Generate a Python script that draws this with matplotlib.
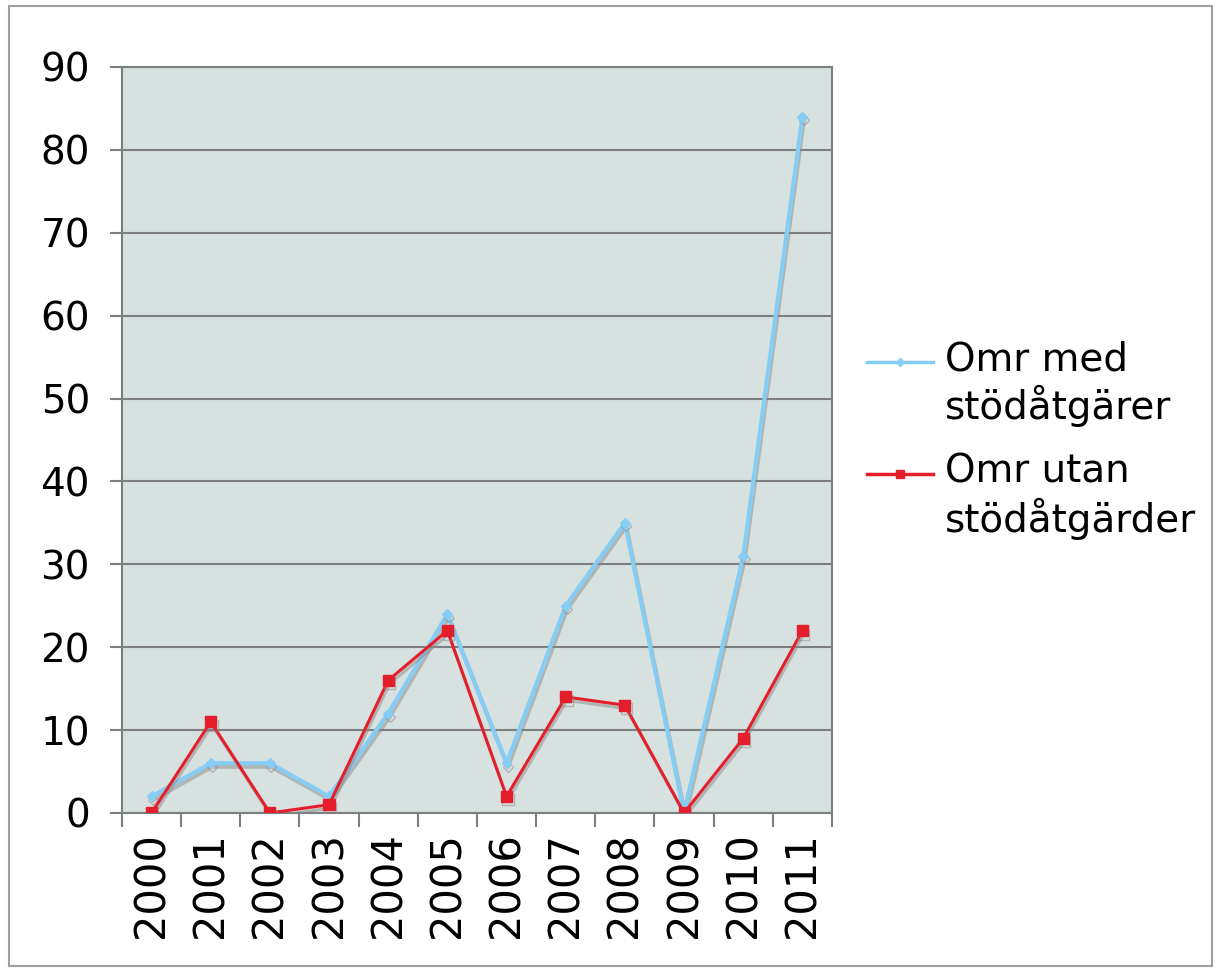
import matplotlib
matplotlib.use('Agg')
import matplotlib.pyplot as plt
import matplotlib.patheffects as pe
from matplotlib.patches import Rectangle
from matplotlib.legend_handler import HandlerLine2D

years = ['2000', '2001', '2002', '2003', '2004', '2005',
         '2006', '2007', '2008', '2009', '2010', '2011']
med_stod = [2, 6, 6, 2, 12, 24, 6, 25, 35, 0, 31, 84]
utan_stod = [0, 11, 0, 1, 16, 22, 2, 14, 13, 0, 9, 22]

label_med = 'Omr med\nstödåtgärer'
label_utan = 'Omr utan\nstödåtgärder'

blue = '#86cdf5'
red = '#e41f2b'
grid_col = '#7b7f7f'

plt.rcParams['font.family'] = ['DejaVu Sans']


class FirstLineHandler(HandlerLine2D):
    # put the legend handle level with the first line of a two-line label
    def create_artists(self, legend, orig_handle, xdescent, ydescent,
                       width, height, fontsize, trans):
        artists = super().create_artists(legend, orig_handle, xdescent, ydescent,
                                         width, height, fontsize, trans)
        for a in artists:
            a.set_ydata([y + 0.6 * fontsize for y in a.get_ydata()])
            a.set_path_effects([])
        return artists


fig = plt.figure(figsize=(12.16, 9.72), dpi=100)
ax = fig.add_axes([0.1003, 0.1636, 0.5839, 0.7675])
ax.set_facecolor('#d7e1e0')

shadow = [pe.SimpleLineShadow(offset=(1.0, -2.5), shadow_color='#8a8a8a', alpha=0.5), pe.Normal()]

x = list(range(len(years)))
l1, = ax.plot(x, med_stod, color=blue, lw=3, marker='D', ms=5, mec=blue, mfc=blue,
              label=label_med, path_effects=shadow, zorder=3)
l2, = ax.plot(x, utan_stod, color=red, lw=2.2, marker='s', ms=8, mec=red, mfc=red,
              label=label_utan, path_effects=shadow, zorder=4)

ax.set_xlim(-0.5, len(years) - 0.5)
ax.set_ylim(0, 90)
ax.set_yticks(range(0, 91, 10))
ax.yaxis.grid(True, color=grid_col, lw=1.5)
ax.set_axisbelow(True)

ax.set_xticks(x)
ax.set_xticklabels(years, rotation=90)
ax.set_xticks([i - 0.5 for i in range(len(years) + 1)], minor=True)
ax.tick_params(axis='x', which='major', length=0, pad=14, labelsize=30)
ax.tick_params(axis='x', which='minor', length=10, width=1.5, color=grid_col, direction='out')
ax.tick_params(axis='y', length=9, width=1.5, color=grid_col, pad=14, labelsize=28)

for side in ['left', 'bottom', 'right', 'top']:
    ax.spines[side].set_color(grid_col)
    ax.spines[side].set_linewidth(1.5)

leg = ax.legend(loc='center left', bbox_to_anchor=(1.0, 0.5), frameon=False,
                fontsize=28, handlelength=1.7, handletextpad=0.3, labelspacing=0.65,
                handler_map={l1: FirstLineHandler(), l2: FirstLineHandler()})
for h in leg.legend_handles:
    h.set_linewidth(2.5)
leg.legend_handles[0].set_markersize(4)
leg.legend_handles[1].set_markersize(6)

fig.patches.append(Rectangle((0.007, 0.006), 0.99, 0.988, transform=fig.transFigure,
                             fill=False, edgecolor='#a0a0a0', lw=1.5))

fig.savefig('out.png', dpi=100)
